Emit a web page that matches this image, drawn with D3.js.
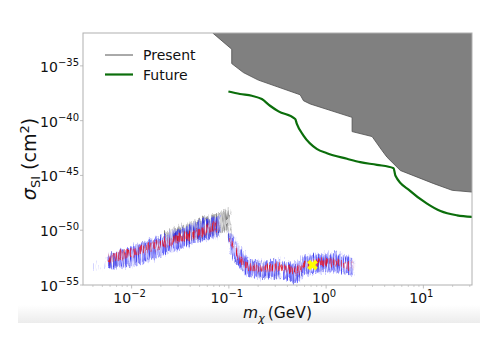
<!DOCTYPE html>
<html>
<head>
<meta charset="utf-8">
<script src="https://cdn.jsdelivr.net/npm/d3@7"></script>
<style>
  body { margin: 0; background: #fff; }
  svg { display: block; font-family: "DejaVu Sans", sans-serif; }
</style>
</head>
<body>
<svg id="chart" width="498" height="352"></svg>
<script>
// exclusion limits (mass in GeV, log10 of sigma in cm^2)
const presentMass = [0.0682, 0.107, 0.107, 0.141, 0.201, 0.541, 0.585, 0.686, 1.85, 1.85, 2.97, 3.76, 4.23, 5.8, 12.8, 19.8, 32];
const presentExp = [-32, -33.48, -34.79, -35.61, -36.3, -37.64, -38.18, -38.48, -39.7, -41.0, -41.45, -42.73, -43.34, -44.55, -45.75, -46.36, -46.52];

const futureMass = [0.0989, 0.13, 0.172, 0.218, 0.265, 0.324, 0.481, 0.5, 0.585, 0.8, 1.02, 1.64, 2.24, 3.33, 4.94, 5.15, 7.35, 10.9, 15.0, 22.2, 32];
const futureExp = [-37.34, -37.57, -37.73, -38.03, -38.64, -39.15, -39.85, -40.3, -41.36, -42.57, -42.97, -43.48, -43.79, -44.03, -44.34, -45.0, -46.43, -47.57, -48.25, -48.64, -48.79];

// scan bands: [mass, low exp, high exp]
const grayBand = [[0.022, -51.0, -50.2], [0.0354, -51.0, -49.45], [0.0505, -50.8, -49.0], [0.0716, -50.3, -48.55], [0.1005, -50.1, -48.15]];
const grayDrop = [[0.1, -50.7, -48.3], [0.106, -50.5, -48.5]];
const blueSparse = [[0.0042, -53.7, -53.1], [0.0057, -53.6, -52.9]];
const blueLeft = [[0.0057, -53.55, -52.35], [0.0116, -53.1, -51.3], [0.0237, -52.1, -50.4], [0.0505, -51.0, -49.2], [0.0716, -50.7, -48.85], [0.082, -50.4, -48.8]];
const blueRightA = [[0.102, -51.1, -50.1], [0.105, -51.9, -50.2], [0.124, -53.0, -51.3], [0.147, -53.9, -52.2], [0.173, -54.3, -52.75], [0.236, -54.35, -52.85], [0.34, -54.3, -52.65]];
const blueRightB = [[0.36, -54.4, -52.75], [0.427, -54.55, -52.85], [0.492, -54.8, -53.1], [0.609, -54.0, -52.4], [0.869, -53.85, -52.2], [1.24, -53.75, -52.1], [1.57, -53.9, -52.3], [1.9, -54.1, -52.6]];
const redLeft = [[0.0058, -53.0, -52.3], [0.0116, -52.3, -51.5], [0.0237, -51.4, -50.7], [0.05, -50.6, -49.9], [0.078, -50.0, -49.2]];
const redRight = [[0.103, -51.2, -50.5], [0.124, -52.4, -51.8], [0.147, -53.3, -52.7], [0.173, -53.7, -53.1], [0.236, -53.8, -53.2], [0.34, -53.7, -53.1], [0.427, -53.8, -53.2], [0.492, -54.0, -53.4], [0.609, -53.5, -52.9], [0.869, -53.3, -52.7], [1.24, -53.2, -52.6], [1.57, -53.4, -52.8], [1.9, -53.6, -53.0]];
const bestFit = [0.724, -53.18];

const xTickExp = [-2, -1, 0, 1];
const yTickExp = [-55, -50, -45, -40, -35];

const margin = { top: 33, right: 26, bottom: 67, left: 83 };
const width = 498, height = 352;

const svg = d3.select("#chart");
const defs = svg.append("defs");

const x = d3.scaleLog().domain([10 ** -2.5, 10 ** 1.5]).range([margin.left, width - margin.right]);
const y = d3.scaleLog().domain([1e-55, 1e-32]).range([height - margin.bottom, margin.top]);

// faint shadow strip under the figure
const grad = defs.append("linearGradient").attr("id", "shade").attr("x1", 0).attr("x2", 0).attr("y1", 0).attr("y2", 1);
grad.append("stop").attr("offset", "0%").attr("stop-color", "#ffffff");
grad.append("stop").attr("offset", "100%").attr("stop-color", "#ececec");
svg.append("rect").attr("x", 18).attr("y", 305).attr("width", 462).attr("height", 18).attr("fill", "url(#shade)");

defs.append("clipPath").attr("id", "plotClip")
  .append("rect")
  .attr("x", margin.left).attr("y", margin.top)
  .attr("width", width - margin.left - margin.right)
  .attr("height", height - margin.top - margin.bottom);

// streaky texture for the scan points
function streakFilter(id, seed, cut, scale) {
  const f = defs.append("filter").attr("id", id)
    .attr("x", "-10%").attr("y", "-50%").attr("width", "120%").attr("height", "200%");
  f.append("feTurbulence").attr("type", "fractalNoise").attr("baseFrequency", "0.75 0.07")
    .attr("numOctaves", 2).attr("seed", seed).attr("result", "noise");
  f.append("feDisplacementMap").attr("in", "SourceGraphic").attr("in2", "noise")
    .attr("scale", scale).attr("xChannelSelector", "R").attr("yChannelSelector", "G").attr("result", "disp");
  f.append("feColorMatrix").attr("in", "noise").attr("type", "matrix")
    .attr("values", `0 0 0 0 0  0 0 0 0 0  0 0 0 0 0  4 0 0 0 ${cut}`).attr("result", "mask");
  f.append("feComposite").attr("in", "disp").attr("in2", "mask").attr("operator", "in");
}
streakFilter("streakA", 3, -1.6, 10);
streakFilter("streakB", 7, -1.9, 10);
streakFilter("streakC", 11, -1.1, 14);
streakFilter("streakR", 5, -2.1, 10);

const plot = svg.append("g").attr("clip-path", "url(#plotClip)");

const band = d3.area()
  .x(d => x(d[0]))
  .y0(d => y(10 ** d[1]))
  .y1(d => y(10 ** d[2]))
  .curve(d3.curveMonotoneX);

// present limit region
const presentPts = presentMass.map((m, i) => [m, presentExp[i]]);
plot.append("path")
  .datum(presentPts)
  .attr("d", d3.area().x(d => x(d[0])).y0(y(1e-30)).y1(d => y(10 ** d[1])))
  .attr("fill", "#808080")
  .attr("stroke", "#4d4d4d")
  .attr("stroke-width", 0.8);

// future line
const futurePts = futureMass.map((m, i) => [m, futureExp[i]]);
plot.append("path")
  .datum(futurePts)
  .attr("d", d3.line().x(d => x(d[0])).y(d => y(10 ** d[1])).curve(d3.curveMonotoneX))
  .attr("fill", "none")
  .attr("stroke", "#0b6e0b")
  .attr("stroke-width", 2.2);

// scan bands
function drawBand(data, color, filter, opacity) {
  plot.append("path")
    .datum(data)
    .attr("d", band)
    .attr("fill", color)
    .attr("opacity", opacity)
    .attr("filter", `url(#${filter})`);
}
[grayBand, grayDrop].forEach(b => {
  drawBand(b, "#a8a8a8", "streakC", 0.5);
  drawBand(b, "#333333", "streakA", 0.5);
});
[blueSparse].forEach(b => drawBand(b, "#8080ff", "streakB", 0.35));
[blueLeft, blueRightA, blueRightB].forEach(b => {
  drawBand(b, "#a0a0ff", "streakC", 0.55);
  drawBand(b, "#2a2aff", "streakA", 0.6);
  drawBand(b, "#0000cc", "streakB", 0.5);
});
[redLeft, redRight].forEach(b => {
  drawBand(b, "#ff1a1a", "streakA", 0.75);
  drawBand(b, "#e00000", "streakR", 0.8);
});

plot.append("path")
  .attr("d", d3.symbol(d3.symbolCross, 70)())
  .attr("transform", `translate(${x(bestFit[0])},${y(10 ** bestFit[1])}) rotate(45)`)
  .attr("fill", "#ffff00");

// frame
svg.append("rect")
  .attr("x", margin.left).attr("y", margin.top)
  .attr("width", width - margin.left - margin.right)
  .attr("height", height - margin.top - margin.bottom)
  .attr("fill", "none").attr("stroke", "#b0b0b0").attr("stroke-width", 1);

// x ticks
const xAxisY = height - margin.bottom;
const minorX = [];
for (let e = -3; e <= 1; e++) for (let k = 2; k <= 9; k++) {
  const v = k * 10 ** e;
  if (v >= x.domain()[0] && v <= x.domain()[1]) minorX.push(v);
}
svg.append("g").selectAll("line").data(minorX).join("line")
  .attr("x1", d => x(d)).attr("x2", d => x(d))
  .attr("y1", xAxisY).attr("y2", xAxisY + 2)
  .attr("stroke", "#b0b0b0").attr("stroke-width", 0.6);
svg.append("g").selectAll("line").data(xTickExp).join("line")
  .attr("x1", d => x(10 ** d)).attr("x2", d => x(10 ** d))
  .attr("y1", xAxisY).attr("y2", xAxisY + 3.5)
  .attr("stroke", "#b0b0b0").attr("stroke-width", 0.8);

const xLabels = svg.append("g").selectAll("text").data(xTickExp).join("text")
  .attr("x", d => x(10 ** d) - 2)
  .attr("y", xAxisY + 18)
  .attr("text-anchor", "middle")
  .attr("font-size", 14)
  .attr("fill", "#111");
xLabels.append("tspan").text("10");
xLabels.append("tspan").attr("dy", -6).attr("font-size", 10).text(d => d < 0 ? "\u2212" + Math.abs(d) : d);

// y ticks
svg.append("g").selectAll("line").data(yTickExp).join("line")
  .attr("x1", margin.left - 3).attr("x2", margin.left)
  .attr("y1", d => y(10 ** d)).attr("y2", d => y(10 ** d))
  .attr("stroke", "#b0b0b0").attr("stroke-width", 0.8);
const yLabels = svg.append("g").selectAll("text").data(yTickExp).join("text")
  .attr("x", margin.left - 4)
  .attr("y", d => y(10 ** d) + 6)
  .attr("text-anchor", "end")
  .attr("font-size", 14)
  .attr("fill", "#111");
yLabels.append("tspan").text("10");
yLabels.append("tspan").attr("dy", -6).attr("font-size", 10).text(d => "\u2212" + Math.abs(d));

// axis titles
const xTitle = svg.append("text")
  .attr("x", (margin.left + width - margin.right) / 2)
  .attr("y", 318)
  .attr("text-anchor", "middle")
  .attr("font-size", 15.5)
  .attr("fill", "#111");
xTitle.append("tspan").attr("font-style", "italic").text("m");
xTitle.append("tspan").attr("font-style", "italic").attr("font-size", 11).attr("dy", 4).text("\u03c7");
xTitle.append("tspan").attr("dy", -4).text("\u2009(GeV)");

const yTitle = svg.append("text")
  .attr("transform", `translate(36,${(margin.top + height - margin.bottom) / 2}) rotate(-90)`)
  .attr("text-anchor", "middle")
  .attr("font-size", 19)
  .attr("fill", "#111");
yTitle.append("tspan").attr("font-style", "italic").text("\u03c3");
yTitle.append("tspan").attr("font-size", 13).attr("dy", 3.5).text("SI");
yTitle.append("tspan").attr("dy", -3.5).text(" (cm");
yTitle.append("tspan").attr("font-size", 13).attr("dy", -7).text("2");
yTitle.append("tspan").attr("dy", 7).text(")");

// legend
const legendItems = [
  { label: "Present", color: "#555", w: 1 },
  { label: "Future", color: "#0b6e0b", w: 2.2 }
];
const legend = svg.append("g").selectAll("g").data(legendItems).join("g")
  .attr("transform", (d, i) => `translate(105,${55 + i * 19.5})`);
legend.append("line").attr("x1", 0).attr("x2", 28)
  .attr("stroke", d => d.color).attr("stroke-width", d => d.w);
legend.append("text").attr("x", 38).attr("y", 5)
  .attr("font-size", 14).attr("fill", "#111").text(d => d.label);
</script>
</body>
</html>
